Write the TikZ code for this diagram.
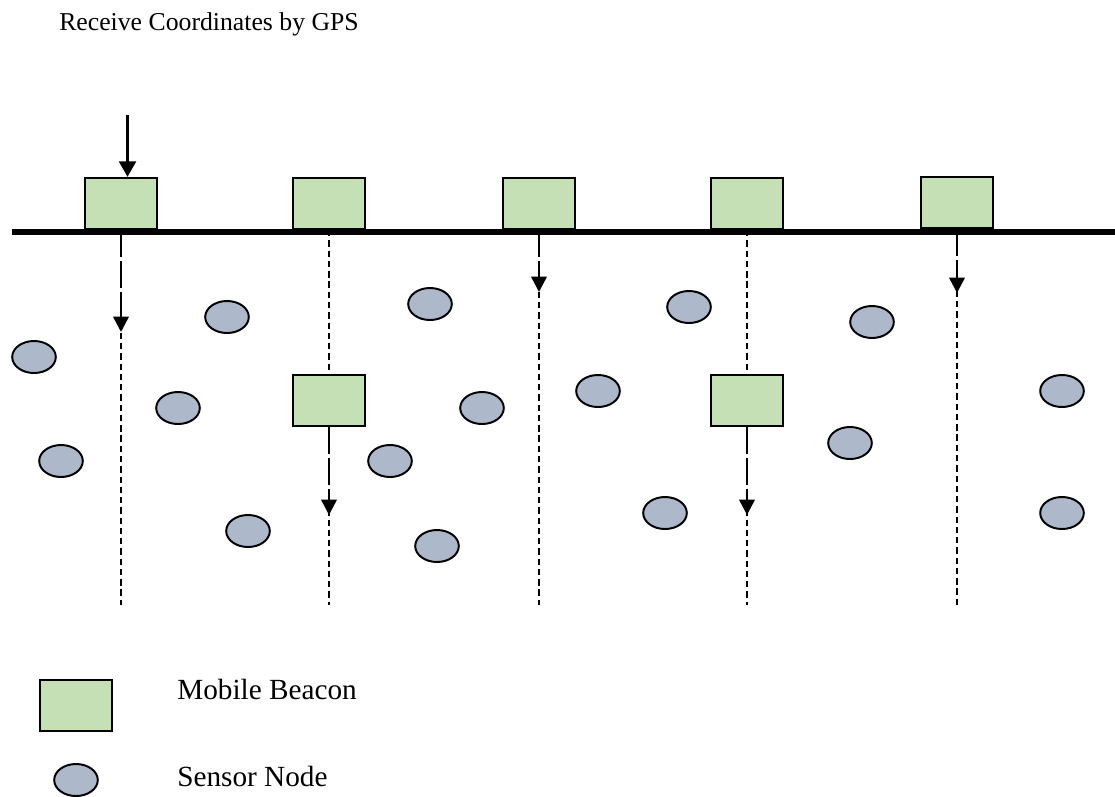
\documentclass[tikz,border=0pt]{standalone}
\definecolor{BeaconGreen}{HTML}{C5E0B4}
\definecolor{NodeGrey}{HTML}{ADB9CA}
\usepackage{fontspec}
\setmainfont{Liberation Serif}
\usepackage{tikz}
\usetikzlibrary{arrows.meta, shapes.geometric}

\tikzset{
  beacon/.style={draw, line width=1.5pt, fill=BeaconGreen, minimum width=1.8cm, minimum height=1.28cm, inner sep=0pt},
  sensor/.style={draw, ellipse, line width=1.4pt, fill=NodeGrey, minimum width=1.09cm, minimum height=0.8cm, inner sep=0pt},
  track/.style={line width=1.5pt, dash pattern=on 4.5pt off 2.8pt},
  move/.style={line width=1.8pt, dash pattern=on 8pt off 3pt, -{Triangle[length=11pt, width=11pt]}},
  label/.style={anchor=base west, inner sep=0pt}
}

\begin{document}
\begin{tikzpicture}[x=0.025cm, y=-0.025cm]
  \useasboundingbox (0,0) rectangle (1115,796);

  % title
  \node[label, font=\fontsize{18.3}{22}\selectfont] (title) at (59,30) {Receive Coordinates by GPS};

  % beacons on the line
  \node[beacon] (b1) at (121,203.5) {};
  \node[beacon] (b2) at (329,203.5) {};
  \node[beacon] (b3) at (539,203.5) {};
  \node[beacon] (b4) at (747,203.5) {};
  \node[beacon] (b5) at (957,202.5) {};
  \draw[line width=3.6pt] (12,232) -- (1115,232);

  % GPS arrow
  \coordinate (gps) at (127.5,115);
  \draw[line width=1.8pt, -{Triangle[length=11pt, width=12pt]}] (gps) -- (gps |- b1.north);

  % tracks
  \coordinate (e1) at (121,605);
  \coordinate (e2) at (329,605);
  \coordinate (e3) at (539,605);
  \coordinate (e4) at (747,605);
  \coordinate (e5) at (957,605);
  \node[beacon] (m2) at (329,400.5) {};
  \node[beacon] (m4) at (747,400.5) {};
  \draw[track] (b1.south) -- (e1);
  \draw[track] (b2.south) -- (m2.north);
  \draw[track] (m2.south) -- (e2);
  \draw[track] (b3.south) -- (e3);
  \draw[track] (b4.south) -- (m4.north);
  \draw[track] (m4.south) -- (e4);
  \draw[track] (b5.south) -- (e5);

  % movement arrows
  \coordinate (t1) at (121,332);
  \coordinate (t2) at (329,515);
  \coordinate (t3) at (539,292);
  \coordinate (t4) at (747,515);
  \coordinate (t5) at (957,293);
  \draw[move] (b1.south) -- (t1);
  \draw[move] (m2.south) -- (t2);
  \draw[move] (b3.south) -- (t3);
  \draw[move] (m4.south) -- (t4);
  \draw[move] (b5.south) -- (t5);

  % sensor nodes
  \node[sensor] (s1) at (34,357) {};
  \node[sensor] (s2) at (227,317) {};
  \node[sensor] (s3) at (430,304) {};
  \node[sensor] (s4) at (689,307) {};
  \node[sensor] (s5) at (872,322) {};
  \node[sensor] (s6) at (178,408) {};
  \node[sensor] (s7) at (482,408) {};
  \node[sensor] (s8) at (598,391) {};
  \node[sensor] (s9) at (1062,391) {};
  \node[sensor] (s10) at (61,461) {};
  \node[sensor] (s11) at (390,461) {};
  \node[sensor] (s12) at (850,443) {};
  \node[sensor] (s13) at (248,531) {};
  \node[sensor] (s14) at (437,546) {};
  \node[sensor] (s15) at (665,513) {};
  \node[sensor] (s16) at (1062,513) {};

  % legend
  \node[beacon] (keyb) at (76,705.5) {};
  \node[label, font=\fontsize{20.8}{25}\selectfont] (keybt) at (177,699) {Mobile Beacon};
  \node[sensor] (keys) at (76,780) {};
  \node[label, font=\fontsize{20.8}{25}\selectfont] (keyst) at (177,786) {Sensor Node};
\end{tikzpicture}
\end{document}
